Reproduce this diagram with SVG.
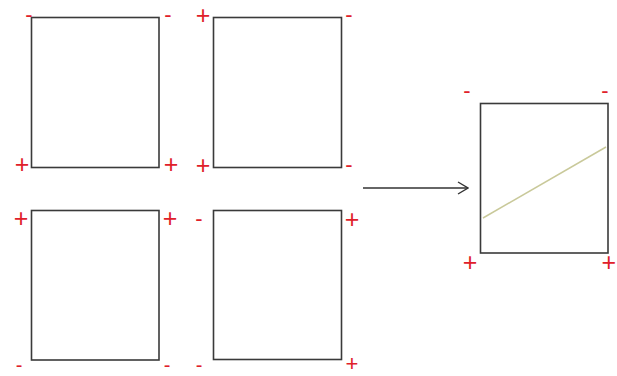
<svg xmlns="http://www.w3.org/2000/svg" width="617" height="376" viewBox="0 0 617 376">
<defs>
<style>
.box{fill:#fff;stroke:#3a3a3a;stroke-width:1.6}
.p{font-family:"Liberation Sans",Arial,sans-serif;font-size:25px;fill:#e0202a;text-anchor:middle}
.m{font-family:"Liberation Sans",Arial,sans-serif;font-size:22px;fill:#e0202a;text-anchor:middle}
.con{stroke:#333;stroke-width:1.4;fill:none}
</style>
<marker id="ah" viewBox="0 0 12 14" refX="11" refY="7" markerWidth="12" markerHeight="14" markerUnits="userSpaceOnUse" orient="auto">
<path d="M1,1 L11,7 L1,13" fill="none" stroke="#333" stroke-width="1.4"/>
</marker>
</defs>
<rect width="617" height="376" fill="#fff"/>
<g id="box1">
<rect class="box" x="31.5" y="17.5" width="127.5" height="150"/>
<text class="m" x="29" y="22">-</text>
<text class="m" x="168" y="22">-</text>
<text class="p" x="22" y="172.5">+</text>
<text class="p" x="171" y="172.5">+</text>
</g>
<g id="box2">
<rect class="box" x="213.5" y="17.5" width="128" height="150"/>
<text class="p" x="203" y="23.5">+</text>
<text class="m" x="349" y="22">-</text>
<text class="p" x="203" y="173.5">+</text>
<text class="m" x="349" y="172">-</text>
</g>
<g id="box3">
<rect class="box" x="31.5" y="210.5" width="127.5" height="149.5"/>
<text class="p" x="21" y="226.5">+</text>
<text class="p" x="170" y="226.5">+</text>
<text class="m" x="19" y="371.5" style="font-size:20px">-</text>
<text class="m" x="167" y="371.5" style="font-size:20px">-</text>
</g>
<g id="box4">
<rect class="box" x="213.5" y="210.5" width="128" height="149"/>
<text class="m" x="199" y="226">-</text>
<text class="p" x="352" y="227.5">+</text>
<text class="m" x="199" y="371.5" style="font-size:20px">-</text>
<text class="p" x="352" y="371" style="font-size:22px">+</text>
</g>
<g id="result">
<rect class="box" x="480.5" y="103.5" width="127.5" height="149.5"/>
<line x1="483" y1="218" x2="606" y2="147" stroke="#c9c99a" stroke-width="1.5"/>
<text class="m" x="467" y="98">-</text>
<text class="m" x="605" y="98">-</text>
<text class="p" x="470" y="270.5">+</text>
<text class="p" x="616" y="270.5" style="text-anchor:end">+</text>
</g>
<g id="connectors">
<line class="con" x1="363" y1="188" x2="468" y2="188" marker-end="url(#ah)"/>
</g>
</svg>
